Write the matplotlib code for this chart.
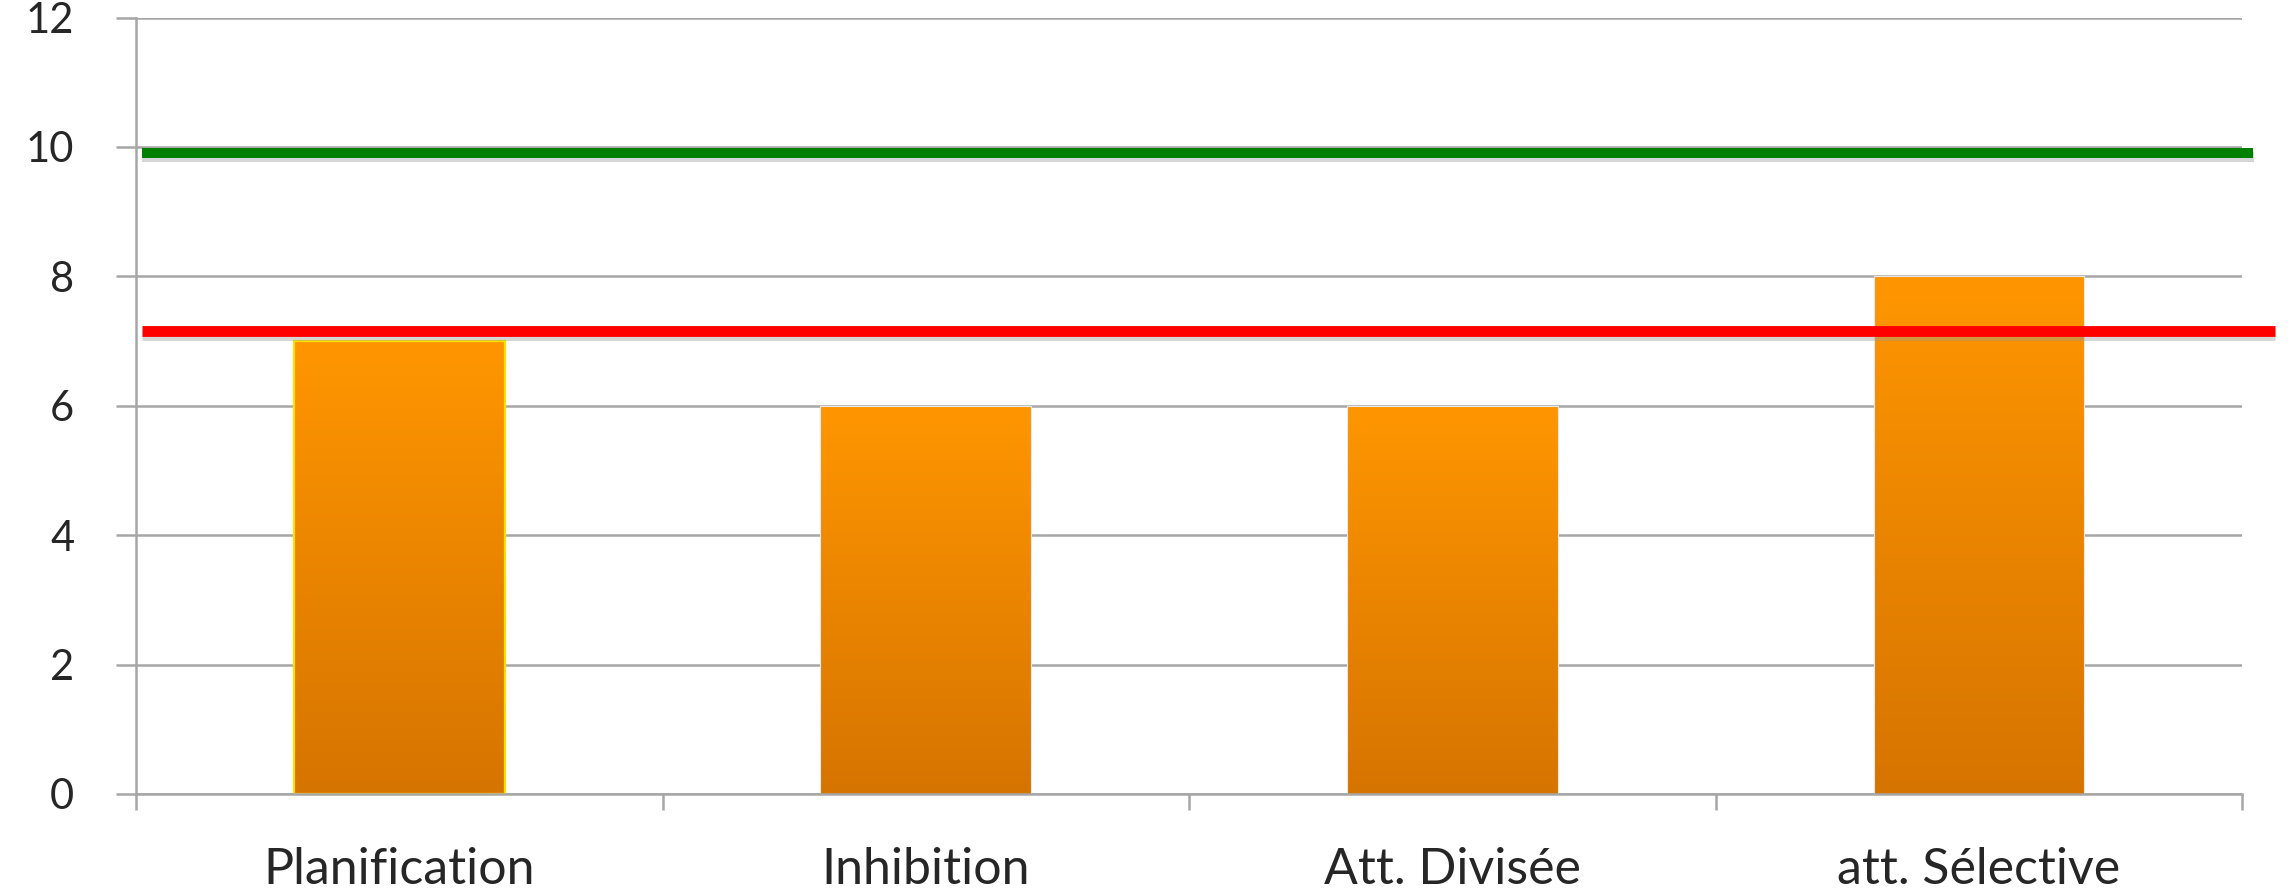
import numpy as np
import matplotlib
matplotlib.use("Agg")
import matplotlib.pyplot as plt
import matplotlib.patheffects as pe
from matplotlib.colors import LinearSegmentedColormap

# Scores per cognitive function
categories = ["Planification", "Inhibition", "Att. Divisée", "att. Sélective"]
scores = [7, 6, 6, 8]

# Reference levels drawn as horizontal bars across the chart
upper_level = 9.9   # green
lower_level = 7.15  # red

y_ticks = [0, 2, 4, 6, 8, 10, 12]

plt.rcParams["font.family"] = ["Lato", "DejaVu Sans"]

fig = plt.figure(figsize=(22.93, 8.93), dpi=100)
ax = fig.add_axes([0.0593, 0.1109, 0.9185, 0.8695])

x = np.arange(len(categories))
bars = ax.bar(x, scores, width=0.4, color="#F08A00", zorder=2,
              edgecolor="none")

# Vertical orange gradient clipped to each bar
grad_cmap = LinearSegmentedColormap.from_list("orange_grad", ["#D67400", "#FF9600"])
gradient = np.linspace(0, 1, 256).reshape(-1, 1)
for i, b in enumerate(bars):
    x0, w, h = b.get_x(), b.get_width(), b.get_height()
    img = ax.imshow(gradient, extent=(x0, x0 + w, 0, h), origin="lower",
                    cmap=grad_cmap, aspect="auto", zorder=2.1,
                    interpolation="bicubic")
    img.set_clip_path(b)
    b.set_path_effects([pe.SimplePatchShadow(offset=(0, 0), shadow_rgbFace="#BBBBBB",
                                             alpha=0.35), pe.Normal()])
    edge = "#FFE000" if i == 0 else "#E8E8E8"
    ax.bar(x0 + w / 2, h, width=w, facecolor="none", edgecolor=edge,
           linewidth=1.6 if i == 0 else 0.8, zorder=2.2)

ax.set_xlim(-0.5, len(categories) - 0.5)
ax.set_ylim(0, 12)

shadow = [pe.SimpleLineShadow(offset=(0.5, -2.5), shadow_color="#999999", alpha=0.4),
          pe.Normal()]
ax.plot([-0.489, 3.521], [upper_level, upper_level], color="#008000", lw=7.2,
        solid_capstyle="butt", clip_on=False, zorder=4, path_effects=shadow)
ax.plot([-0.489, 3.562], [lower_level, lower_level], color="#FF0000", lw=7.8,
        solid_capstyle="butt", clip_on=False, zorder=4, path_effects=shadow)

# Axes styling
grid_color = "#A6A6A6"
ax.set_yticks(y_ticks)
ax.set_yticklabels([str(v) for v in y_ticks])
ax.yaxis.grid(True, color=grid_color, linewidth=1.8, zorder=0)
ax.set_axisbelow(True)
ax.tick_params(axis="y", length=14.5, width=1.8, color=grid_color, pad=30,
               labelsize=30, labelcolor="#262626")

ax.set_xticks(x)
ax.set_xticklabels(categories)
ax.set_xticks(np.arange(-0.5, len(categories)), minor=True)
ax.tick_params(axis="x", which="major", length=0, pad=38, labelsize=36,
               labelcolor="#262626")
ax.tick_params(axis="x", which="minor", length=11.5, width=1.8, color=grid_color)

for s in ("top", "right"):
    ax.spines[s].set_visible(False)
for s in ("left", "bottom"):
    ax.spines[s].set_color(grid_color)
    ax.spines[s].set_linewidth(1.8)

fig.savefig("out.png", dpi=100, facecolor="white")
